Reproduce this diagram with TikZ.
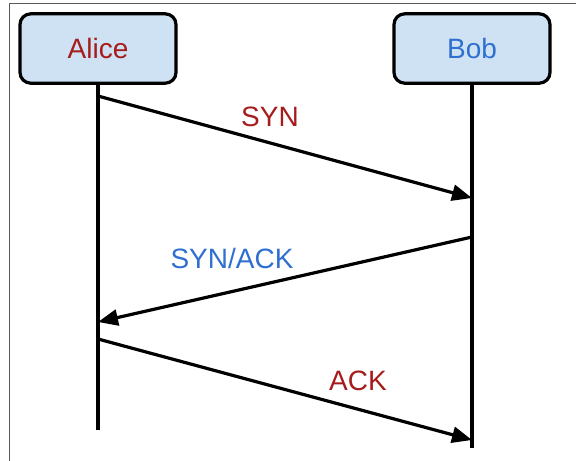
\documentclass[tikz,border=0pt]{standalone}
\usepackage{fontspec}
\setmainfont{Liberation Sans}
\usetikzlibrary{arrows.meta}
\definecolor{boxfill}{HTML}{CFE2F3}
\definecolor{redtxt}{HTML}{A61C1C}
\definecolor{bluetxt}{HTML}{2F6FD0}
\definecolor{framegray}{HTML}{5A5A5A}
\tikzset{
  actor/.style={draw=black, line width=2.4pt, fill=boxfill, rounded corners=8pt,
    minimum width=117pt, minimum height=52pt, inner sep=0pt, font=\fontsize{21}{25}\selectfont},
  lifeline/.style={line width=2.4pt},
  msg/.style={line width=2.4pt, -{Triangle[length=15pt,width=12pt]}},
  msglabel/.style={font=\fontsize{21}{25}\selectfont, inner sep=0pt},
}
\begin{document}
\begin{tikzpicture}[x=0.75pt,y=-0.75pt]
  \useasboundingbox (0,0) rectangle (576,461);
  % outer frame (top and left edges)
  \draw[framegray, line width=1.3pt] (9.5,461) |- (576,3.5);

  % participants
  \node[actor, text=redtxt] (alice) at (98,48.5) {Alice};
  \node[actor, text=bluetxt] (bob) at (472,48.5) {Bob};

  % lifeline ends and message anchors
  \coordinate (aEnd) at (alice.south |- 0,430);
  \coordinate (bEnd) at (bob.south |- 0,448);
  \coordinate (a1) at (alice.south |- 0,96);
  \coordinate (b1) at (bob.south |- 0,198);
  \coordinate (b2) at (bob.south |- 0,237);
  \coordinate (a2) at (alice.south |- 0,322);
  \coordinate (a3) at (alice.south |- 0,339);
  \coordinate (b3) at (bob.south |- 0,440);

  \draw[lifeline] (alice.south) -- (aEnd);
  \draw[lifeline] (bob.south) -- (bEnd);

  % messages
  \draw[msg] (a1) -- (b1);
  \draw[msg] (b2) -- (a2);
  \draw[msg] (a3) -- (b3);

  \node[msglabel, text=redtxt] (syn) at (270,117) {SYN};
  \node[msglabel, text=bluetxt] (synack) at (232,258) {SYN/ACK};
  \node[msglabel, text=redtxt] (ack) at (358,381) {ACK};
\end{tikzpicture}
\end{document}
